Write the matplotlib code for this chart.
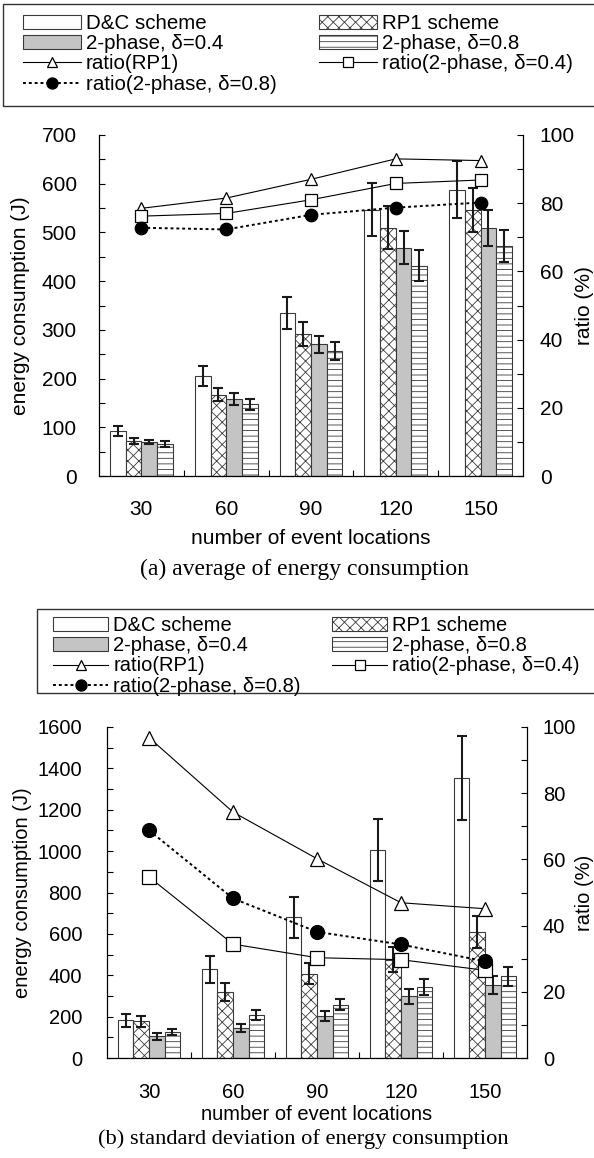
import numpy as np
import matplotlib
matplotlib.use("Agg")
import matplotlib.pyplot as plt
from matplotlib.patches import Patch, Rectangle
from matplotlib.lines import Line2D
from matplotlib.ticker import MultipleLocator

plt.rcParams['font.family'] = ['Liberation Sans', 'DejaVu Sans']
plt.rcParams['hatch.linewidth'] = 0.6

# data
categories = ['30', '60', '90', '120', '150']

# (a) average of energy consumption
avg_dc = [93, 205, 335, 547, 588]
avg_dc_err = [10, 20, 33, 55, 59]
avg_rp1 = [72, 167, 291, 510, 546]
avg_rp1_err = [7, 14, 25, 44, 46]
avg_p04 = [70, 158, 270, 469, 510]
avg_p04_err = [4, 12, 18, 34, 37]
avg_p08 = [66, 147, 257, 432, 472]
avg_p08_err = [6, 11, 18, 31, 33]
avg_ratio_rp1 = [78.5, 81.5, 87.0, 93.0, 92.5]
avg_ratio_p04 = [76.2, 77.0, 81.0, 85.8, 86.8]
avg_ratio_p08 = [72.8, 72.3, 76.6, 78.7, 80.2]

# (b) standard deviation of energy consumption
std_dc = [182, 429, 680, 1004, 1355]
std_dc_err = [30, 66, 100, 149, 203]
std_rp1 = [177, 319, 408, 475, 609]
std_rp1_err = [27, 44, 52, 60, 77]
std_p04 = [105, 145, 203, 298, 354]
std_p04_err = [18, 20, 22, 35, 44]
std_p08 = [126, 210, 258, 343, 395]
std_p08_err = [16, 24, 28, 40, 46]
std_ratio_rp1 = [96.8, 74.3, 60.2, 46.9, 45.1]
std_ratio_p04 = [54.7, 34.4, 30.3, 29.7, 26.5]
std_ratio_p08 = [68.8, 48.2, 38.1, 34.3, 29.2]

bar_labels = ['D&C scheme', 'RP1 scheme', '2-phase, δ=0.4', '2-phase, δ=0.8']
ratio_labels = ['ratio(RP1)', 'ratio(2-phase, δ=0.4)', 'ratio(2-phase, δ=0.8)']

W, H = 594, 1158
EDGE = '#3a3a3a'
GRAY = '#c4c4c4'
bar_styles = [
    dict(facecolor='white', hatch=None),
    dict(facecolor='white', hatch='xxx'),
    dict(facecolor=GRAY, hatch=None),
    dict(facecolor='white', hatch='---'),
]
line_styles = [
    dict(marker='^', mfc='white', ls='-', lw=0.8),
    dict(marker='s', mfc='white', ls='-', lw=0.8),
    dict(marker='o', mfc='black', ls=(0, (1.5, 1.5)), lw=1.4),
]


def fx(px):
    return px / W


def fy(py):
    return 1 - py / H


fig = plt.figure(figsize=(W / 100, H / 100), dpi=100)


def draw_panel(rect, bars, errs, ratios, ymax, ymaj, ymin, fs, msize,
               ylab_x, ylab2_x, xlab_y, ypad, y2pad, xpad):
    ax = fig.add_axes(rect)
    x = np.arange(len(categories))
    w = 0.185
    for i, (vals, err, st) in enumerate(zip(bars, errs, bar_styles)):
        ax.bar(x + (i - 1.5) * w, vals, w, color=st['facecolor'], hatch=st['hatch'],
               edgecolor=EDGE, linewidth=0.8, zorder=2)
        ax.errorbar(x + (i - 1.5) * w, vals, yerr=err, fmt='none', ecolor='#1a1a1a',
                    elinewidth=1.5, capsize=3.5, capthick=1.5, zorder=3)
    ax.set_xlim(-0.5, len(categories) - 0.5)
    ax.set_ylim(0, ymax)
    ax.yaxis.set_major_locator(MultipleLocator(ymaj))
    ax.yaxis.set_minor_locator(MultipleLocator(ymin))
    ax.set_xticks(x)
    ax.set_xticklabels(categories)
    ax.set_xticks(x[:-1] + 0.5, minor=True)
    ax.tick_params(axis='x', which='major', length=0, pad=xpad, labelsize=fs)
    ax.tick_params(axis='x', which='minor', direction='in', length=4, width=0.8)
    ax.tick_params(axis='y', which='both', direction='in', length=4, width=0.8,
                   pad=ypad, labelsize=fs)
    ax.spines['top'].set_visible(False)
    ax.spines['right'].set_visible(False)
    for s in ('left', 'bottom'):
        ax.spines[s].set_linewidth(0.9)
    ax.set_ylabel('energy consumption (J)', fontsize=fs, va='center')
    ax.yaxis.set_label_coords(ylab_x, 0.5)
    ax.set_xlabel('number of event locations', fontsize=fs, va='center')
    ax.xaxis.set_label_coords(0.5, xlab_y)

    ax2 = ax.twinx()
    for vals, st in zip(ratios, line_styles):
        ax2.plot(x, vals, color='black', marker=st['marker'], mfc=st['mfc'],
                 mec='black', mew=0.9, ms=msize, ls=st['ls'], lw=st['lw'], zorder=4)
    ax2.set_ylim(0, 100)
    ax2.yaxis.set_major_locator(MultipleLocator(20))
    ax2.yaxis.set_minor_locator(MultipleLocator(10))
    ax2.tick_params(axis='y', which='both', direction='in', length=4, width=0.8,
                    pad=y2pad, labelsize=fs)
    ax2.spines['top'].set_visible(False)
    ax2.spines['left'].set_visible(False)
    ax2.spines['bottom'].set_visible(False)
    ax2.spines['right'].set_linewidth(0.9)
    ax2.set_ylabel('ratio (%)', fontsize=fs, va='center')
    ax2.yaxis.set_label_coords(ylab2_x, 0.5)
    return ax, ax2


def draw_legend(box, col1_x, col2_x, top_y, fs, hl, tp, ls):
    # frame
    x0, y0, x1, y1 = box
    fig.add_artist(Rectangle((fx(x0), fy(y1)), fx(x1) - fx(x0), fy(y0) - fy(y1),
                             transform=fig.transFigure, fill=False,
                             edgecolor='#333333', linewidth=1.0))
    patches = [Patch(facecolor=st['facecolor'], hatch=st['hatch'], edgecolor=EDGE,
                     linewidth=0.8, label=lab)
               for st, lab in zip(bar_styles, bar_labels)]
    lines = [Line2D([], [], color='black', marker=st['marker'], mfc=st['mfc'],
                    mec='black', mew=0.9, ms=sz, ls=st['ls'], lw=st['lw'], label=lab)
             for st, lab, sz in zip(line_styles, ratio_labels, [6.5, 7.5, 8])]
    col1 = [patches[0], patches[2], lines[0], lines[2]]
    col2 = [patches[1], patches[3], lines[1]]
    for handles, cx in ((col1, col1_x), (col2, col2_x)):
        fig.legend(handles=handles, loc='upper left', bbox_to_anchor=(fx(cx), fy(top_y)),
                   frameon=False, fontsize=fs, handlelength=hl, handleheight=0.65,
                   handletextpad=tp, labelspacing=ls, borderpad=0, borderaxespad=0)


# panel (a)
draw_panel([fx(99), fy(476), (523 - 99) / W, (476 - 135) / H],
           [avg_dc, avg_rp1, avg_p04, avg_p08],
           [avg_dc_err, avg_rp1_err, avg_p04_err, avg_p08_err],
           [avg_ratio_rp1, avg_ratio_p04, avg_ratio_p08],
           700, 100, 50, 15, 9,
           (21 - 99) / 424, (584 - 99) / 424, (476 - 538) / 341, 16, 12, 17)
draw_legend((3, 4, 604, 106), 23, 319, 14, 14.8, 2.8, 0.25, 0.06)
fig.text(fx(304), fy(569), '(a) average of energy consumption',
         family='Liberation Serif', fontsize=17, ha='center', va='center')

# panel (b)
draw_panel([fx(107), fy(1058), (527 - 107) / W, (1058 - 727) / H],
           [std_dc, std_rp1, std_p04, std_p08],
           [std_dc_err, std_rp1_err, std_p04_err, std_p08_err],
           [std_ratio_rp1, std_ratio_p04, std_ratio_p08],
           1600, 200, 100, 14.5, 10,
           (22 - 107) / 420, (584 - 107) / 420, (1058 - 1114) / 331, 18, 11.5, 18)
draw_legend((37, 609, 604, 693), 53, 332, 616, 14.5, 2.75, 0.25, 0.06)
fig.text(fx(303), fy(1139), '(b) standard deviation of energy consumption',
         family='Liberation Serif', fontsize=16.2, ha='center', va='center')

fig.savefig('out.png', dpi=100)
